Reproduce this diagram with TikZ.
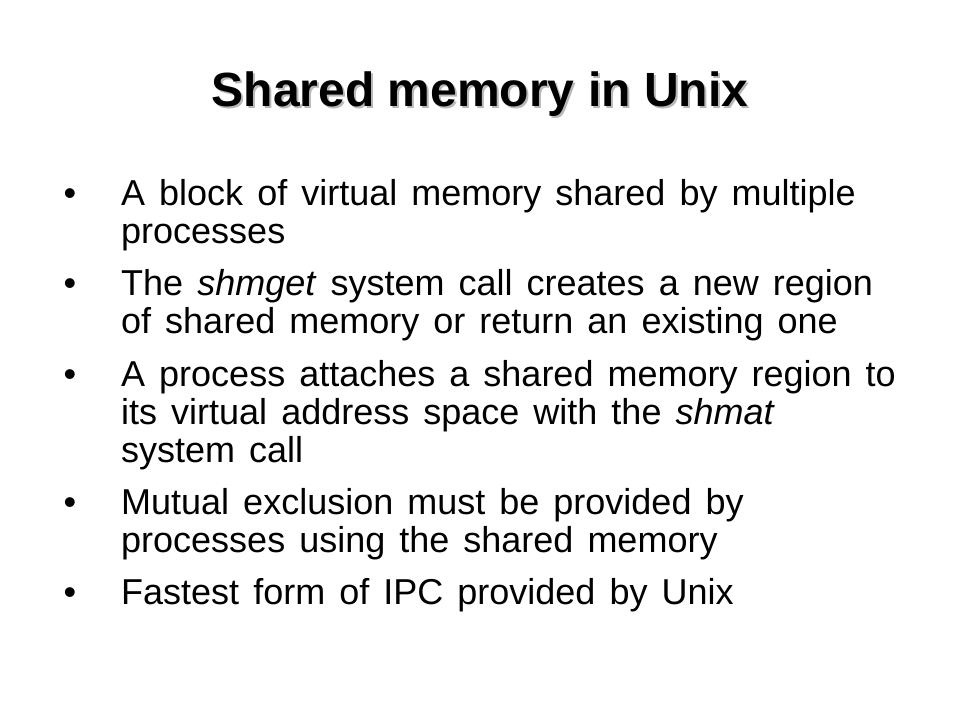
\documentclass[tikz,border=0pt]{standalone}
\usepackage{fontspec}
\setmainfont{Liberation Sans}
\usetikzlibrary{positioning}
\usetikzlibrary{backgrounds}
\definecolor{shadow_gray}{HTML}{B8B8B8}

\begin{document}
\begin{tikzpicture}[
	    x=1pt, y=-1pt,
	    titletext/.style={inner sep=0, font=\fontsize{48}{56}\selectfont\bfseries},
	    bullettext/.style={inner sep=0, text width=800pt, align=left, font=\fontsize{36}{38}\selectfont,
	        execute at begin node={\spaceskip=0.39em\relax}},
	    bulletdot/.style={inner sep=0, anchor=north, font=\fontsize{36}{38}\selectfont},
	    node distance=14pt,
	]
		\useasboundingbox[fill=white] (0, 0) rectangle (960, 720);

		\node[titletext, text=shadow_gray, anchor=base] (titleshadow) at (482, 108) {Shared memory in Unix};
		\node[titletext, anchor=base] (title) at (480, 106) {Shared memory in Unix};

		\node[bullettext, anchor=north west] (b1) at (121, 178.4) {\strut A block of virtual memory shared by multiple\\ processes\strut};
		\node[bullettext, below=of b1] (b2) {\strut The \textit{shmget} system call creates a new region\\ of shared memory or return an existing one\strut};
		\node[bullettext, below=of b2] (b3) {\strut A process attaches a shared memory region to\\ its virtual address space with the \textit{shmat}\\ system call\strut};
		\node[bullettext, below=of b3] (b4) {\strut Mutual exclusion must be provided by\\ processes using the shared memory\strut};
		\node[bullettext, below=of b4] (b5) {\strut Fastest form of IPC provided by Unix\strut};

		\node[bulletdot] (d1) at ([xshift=-51pt]b1.north west) {\strut\textbullet};
		\node[bulletdot] (d2) at ([xshift=-51pt]b2.north west) {\strut\textbullet};
		\node[bulletdot] (d3) at ([xshift=-51pt]b3.north west) {\strut\textbullet};
		\node[bulletdot] (d4) at ([xshift=-51pt]b4.north west) {\strut\textbullet};
		\node[bulletdot] (d5) at ([xshift=-51pt]b5.north west) {\strut\textbullet};
	\end{tikzpicture}
\end{document}
